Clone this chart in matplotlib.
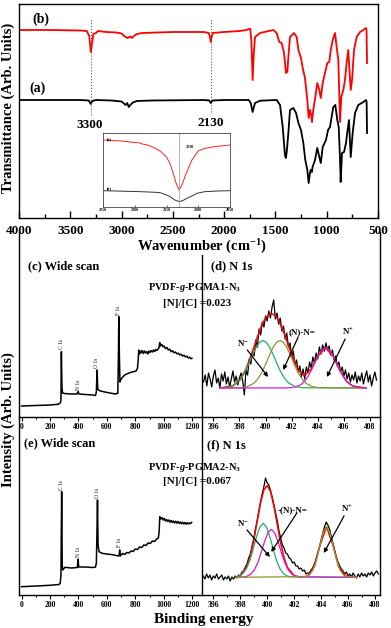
import numpy as np
import matplotlib
matplotlib.use("Agg")
import matplotlib.pyplot as plt
from matplotlib.ticker import MultipleLocator

plt.rcParams['font.family'] = ['Liberation Serif', 'DejaVu Serif']
plt.rcParams['font.weight'] = 'bold'
plt.rcParams['mathtext.fontset'] = 'custom'
plt.rcParams['mathtext.rm'] = 'Liberation Serif:bold'
plt.rcParams['mathtext.it'] = 'Liberation Serif:bold:italic'
plt.rcParams['mathtext.bf'] = 'Liberation Serif:bold'

# ---------------- FTIR data (transmittance, arb. units) ----------------
ftir_b_wn = [4000, 3700, 3400, 3340, 3315, 3300, 3290, 3275, 3250, 3230, 3150, 3050, 3000, 2985,
             2960, 2940, 2925, 2915, 2900, 2880, 2850, 2800, 2500, 2200, 2150, 2140, 2130, 2122,
             2110, 2000, 1850, 1780, 1760, 1745, 1735, 1722, 1712, 1699, 1650, 1520, 1488, 1462,
             1439, 1416, 1397, 1390, 1384, 1371, 1358, 1319, 1293, 1276, 1251, 1234, 1212, 1189,
             1176, 1163, 1150, 1144, 1131, 1111, 1092, 1072, 1058, 1039, 1017, 994, 975, 961,
             942, 919, 903, 887, 870, 858, 838, 822, 806, 790, 780, 766, 753, 734, 708, 675,
             643, 617, 612, 607]
ftir_b_t = [190, 190, 189.5, 189, 184, 168, 175, 186, 187, 189, 188, 187.5, 186.5, 185,
            183, 182, 183, 183.5, 182, 184, 186, 187, 188, 188, 187, 184, 178, 183,
            187, 188, 189, 190, 191, 191, 180, 140, 165, 183, 187, 190, 187, 178,
            177, 167, 147, 150, 148, 167, 183, 187, 183, 170, 162, 152, 142, 120,
            102, 110, 104, 98, 110, 123, 137, 130, 122, 137, 147, 157, 158, 170,
            180, 187, 173, 160, 98, 123, 130, 140, 157, 170, 153, 130, 140, 170, 183, 188,
            190, 192, 190, 157]

ftir_a_wn = [4000, 3700, 3400, 3320, 3300, 3285, 3250, 3100, 3000, 2960, 2945, 2930, 2915, 2890,
             2850, 2700, 2200, 2145, 2130, 2115, 2000, 1760, 1741, 1722, 1710, 1699, 1650, 1488,
             1455, 1429, 1407, 1398, 1390, 1374, 1358, 1325, 1299, 1276, 1251, 1228, 1209, 1189,
             1176, 1166, 1157, 1145, 1138, 1114, 1092, 1072, 1058, 1039, 1007, 987, 968, 936,
             916, 897, 883, 870, 864, 851, 831, 812, 800, 783, 766, 747, 724, 692, 643, 617,
             611, 607]
ftir_a_t = [120, 120, 120, 119.5, 116, 119, 120, 119.5, 118.5, 115, 117, 113, 115, 117.5,
            119, 119.5, 120, 119.5, 117, 119.5, 120, 120, 117, 108, 113, 117, 119.3, 120,
            115, 93, 65, 62, 68, 87, 110, 112, 107, 97, 90, 77, 60, 50,
            37, 45, 50, 48, 53, 60, 72, 63, 57, 73, 80, 90, 93, 113,
            115, 100, 93, 60, 38, 67, 68, 77, 87, 100, 63, 87, 107, 115, 118, 120,
            118, 87]

inset_b_wn = [2250, 2220, 2200, 2192, 2188, 2180, 2170, 2160, 2150, 2145, 2140, 2135, 2130,
              2125, 2120, 2110, 2100, 2090, 2075, 2050]
inset_b_t = [80, 79, 77.5, 77, 76, 75, 72.5, 69, 63, 57, 48, 37, 30,
             36, 45, 60, 69, 71.5, 73.3, 75]
inset_a_wn = [2250, 2200, 2170, 2160, 2150, 2144, 2137, 2130, 2124, 2118, 2110, 2102, 2090, 2070, 2050]
inset_a_t = [29.3, 28.5, 27.8, 27.3, 25, 23.3, 20, 18.3, 19.5, 21.7, 24, 26.7, 28.3, 29, 29.3]

# ---------------- XPS wide scans ----------------
c_be = [0, 100, 200, 258, 272, 277, 280, 284, 288, 300, 350, 390, 398, 404, 450, 500, 520, 526, 531, 536,
        545, 570, 620, 660, 677, 681, 684, 688, 692, 700, 712, 725, 740, 752, 765, 780, 792, 805, 815, 821,
        824, 828, 833, 840, 848, 856, 864, 872, 880, 888, 896, 904, 912, 920, 928, 936, 944, 952, 960, 966,
        972, 978, 986, 994, 1002, 1012, 1022, 1032, 1042, 1052, 1062, 1072, 1082, 1092, 1102, 1112, 1122,
        1132, 1142, 1152, 1162, 1172, 1182, 1192, 1198]
c_int = [11, 11.5, 12, 12.7, 14, 16, 65.3, 30, 24, 23.5, 23, 23, 25.5, 23, 22.5, 22, 21.5, 25, 47, 28,
         26.5, 25.5, 24, 23, 23.7, 60, 100.3, 60, 35, 38, 40, 42, 43, 43.7, 44.5, 45, 45.5, 46, 48.5, 58,
         67, 63, 66, 64, 66.5, 63.5, 66, 64, 65.5, 63, 66, 64.5, 66.5, 65, 67, 65.5, 67.5, 66.5, 68, 69,
         74.3, 71, 72.5, 70.3, 71, 68.5, 69.5, 67, 67.8, 65.3, 66.2, 64.3, 65, 63.2, 63.8, 62, 62.8,
         61, 61.7, 60.2, 60.8, 59, 59.7, 58.3, 58.7]

e_be = [0, 100, 200, 265, 272, 277, 282, 286, 290, 305, 350, 392, 398, 402, 450, 500, 520, 526, 530, 534,
        538, 545, 565, 600, 640, 680, 686, 690, 694, 710, 725, 740, 755, 770, 785, 800, 815, 830, 845, 860,
        875, 890, 905, 920, 935, 950, 962, 968, 972, 980, 988, 996, 1004, 1012, 1020, 1028, 1036, 1044,
        1052, 1060, 1068, 1076, 1084, 1092, 1100, 1108, 1116, 1124, 1132, 1140, 1148, 1156, 1164, 1172,
        1180, 1188, 1196]
e_int = [8.3, 9, 9.7, 10.5, 12, 20, 103.3, 30, 25, 27.7, 27, 27.5, 35.7, 28, 28, 27.5, 28, 32, 60, 95,
         50, 43.3, 41.7, 41, 40.3, 39, 39.5, 45, 39, 41.5, 40.5, 42.5, 42, 44, 43.5, 46, 45.5, 48, 47.5, 50,
         49.5, 52, 51.5, 54, 53.5, 56, 57, 64, 78.3, 76, 77.5, 75, 76.5, 74, 75.5, 73.5, 75, 72.8,
         74.5, 72.5, 74, 72, 73.8, 71.8, 73.5, 71.5, 73, 71.3, 72.8, 71, 72.5, 70.8, 72.3, 71,
         72, 71.5, 72.5]

# peak labels (name, BE, intensity under label)
c_peaks = [("C 1s", 284, 68), ("N 1s", 400, 27), ("O 1s", 530, 49), ("F 1s", 684, 102)]
e_peaks = [("C 1s", 282, 105), ("N 1s", 400, 38), ("O 1s", 534, 97), ("F 1s", 690, 48)]

# ---------------- N 1s, PGMA1 (d) ----------------
d_data = [35, 42, 31, 44, 38, 30,
          41, 47, 34, 39, 29, 43, 36, 45,
          33, 40, 30, 38, 46, 35, 41, 32,
          39, 44, 36, 22, 47, 42, 58, 53,
          66, 61, 77, 70, 88, 82, 95, 90,
          101, 96, 106, 99, 110, 117, 98, 104,
          93, 99, 86, 91, 78, 84, 70, 74,
          60, 66, 52, 57, 45, 51, 40, 48,
          38, 50, 44, 55, 49, 60, 54, 64,
          58, 70, 63, 72, 66, 74, 67, 71,
          62, 67, 57, 61, 51, 55, 45, 50,
          41, 47, 38, 44, 35, 42, 37, 45,
          34, 41, 36, 44, 33, 40, 46, 35,
          42, 31, 39, 45, 37]
d_env_x = [396.5, 397.5, 398.0, 398.5, 399.0, 399.5, 399.75, 400.0, 400.25, 400.45, 400.75, 401.0,
           401.5, 402.0, 402.5, 403.0, 403.5, 404.0, 404.6, 405.2, 405.7, 406.2, 406.7, 407.7]
d_env_y = [29, 31.2, 36.5, 47.8, 65.5, 84.9, 93.1, 99.0, 102.6, 103.4, 101.5, 96.9,
           81.2, 62.0, 46.9, 41.8, 48.0, 60.6, 69.3, 60.2, 46.3, 35.8, 30.9, 29]
d_nminus_x = [396.5, 396.8, 397.3, 397.8, 398.05, 398.3, 398.55, 398.8, 399.05, 399.3, 399.55, 399.8,
              400.05, 400.3, 400.55, 400.8, 401.05, 401.3, 401.55, 401.8, 402.3, 402.8, 407.7]
d_nminus_y = [29, 29.3, 30.3, 33.7, 37.1, 41.9, 48.2, 55.6, 63.3, 70.1, 74.8, 76.5,
              74.8, 70.1, 63.3, 55.6, 48.2, 41.9, 37.1, 33.7, 30.3, 29.3, 29]
d_neq_x = [396.5, 398.1, 398.6, 399.1, 399.35, 399.6, 399.85, 400.1, 400.35, 400.6, 400.85, 401.1,
           401.35, 401.6, 401.85, 402.1, 402.35, 402.6, 402.85, 403.1, 403.6, 404.1, 407.7]
d_neq_y = [29, 29.3, 30.3, 33.7, 37.1, 41.9, 48.2, 55.6, 63.3, 70.1, 74.8, 76.5,
           74.8, 70.1, 63.3, 55.6, 48.2, 41.9, 37.1, 33.7, 30.3, 29.3, 29]
d_nplus_x = [396.5, 401.6, 402.1, 402.6, 402.85, 403.1, 403.35, 403.6, 403.85, 404.1, 404.35, 404.6,
             404.85, 405.1, 405.35, 405.6, 405.85, 406.1, 406.35, 406.6, 407.1, 407.6, 407.7]
d_nplus_y = [29, 29.1, 29.5, 31.5, 33.8, 37.5, 42.7, 49.2, 56.3, 62.9, 67.6, 69.3,
             67.6, 62.9, 56.3, 49.2, 42.7, 37.5, 33.8, 31.5, 29.5, 29.1, 29]

# ---------------- N 1s, PGMA2 (f) ----------------
f_data = [19, 16, 21, 17, 20, 15,
          19, 17, 21, 16, 18, 20, 15, 18,
          16, 19, 14, 18, 16, 19, 17, 20,
          19, 23, 24, 28, 31, 37, 41, 49,
          56, 66, 74, 84, 93, 101, 108, 117,
          112, 110, 104, 98, 90, 82, 74, 64,
          57, 50, 47, 42, 41, 37, 36, 32,
          33, 29, 29, 26, 27, 24, 25, 21,
          22, 22, 25, 27, 31, 36, 42, 48,
          55, 62, 68, 73, 70, 66, 59, 52,
          45, 38, 33, 29, 26, 24, 21, 23,
          19, 21, 18, 22, 19, 17, 21, 18,
          22, 19, 21, 18, 22, 20, 23, 19,
          22, 24, 21]
f_env_x = [397.7, 398.0, 398.5, 398.75, 399.0, 399.25, 399.5, 399.75, 400.0, 400.25, 400.5, 400.75,
           401.0, 401.25, 401.5, 402.0, 402.5, 403.0, 403.5, 403.9, 404.4, 404.9, 405.3, 405.8, 406.6]
f_env_y = [17.7, 19.6, 28.5, 39.1, 54.4, 73.2, 91.7, 105.1, 109.4, 103.3, 88.8, 70.1,
           51.9, 37.3, 27.6, 19.4, 17.8, 18.9, 28.4, 49.0, 68.3, 49.0, 28.4, 18.9, 17.7]
f_nminus_x = [397.7, 397.95, 398.2, 398.45, 398.7, 398.95, 399.2, 399.45, 399.7, 399.95, 400.2, 400.45,
              400.7, 400.95, 401.2, 401.45, 401.7, 406.6]
f_nminus_y = [18.2, 19.2, 21.5, 26.2, 34.2, 45.5, 57.9, 67.9, 71.7, 67.9, 57.9, 45.5,
              34.2, 26.2, 21.5, 19.2, 18.2, 17.7]
f_neq_x = [397.7, 398.3, 398.55, 398.8, 399.05, 399.3, 399.55, 399.8, 400.05, 400.3, 400.55, 400.8,
           401.05, 401.3, 401.55, 401.8, 402.05, 402.3, 406.6]
f_neq_y = [17.7, 18.1, 19.0, 21.1, 25.2, 32.4, 42.4, 53.4, 62.3, 65.7, 62.3, 53.4,
           42.4, 32.4, 25.2, 21.1, 19.0, 18.1, 17.7]
f_nplus_x = [397.7, 402.9, 403.15, 403.4, 403.65, 403.9, 404.15, 404.4, 404.65, 404.9, 405.15, 405.4,
             405.65, 405.9, 406.6]
f_nplus_y = [17.7, 18.4, 20.2, 25.1, 34.9, 49.0, 62.6, 68.3, 62.6, 49.0, 34.9, 25.1,
             20.2, 18.4, 17.7]

W, H = 391, 628
fig = plt.figure(figsize=(W / 100, H / 100), dpi=100)


def box(x0, y0, x1, y1):
    return [x0 / W, 1 - y1 / H, (x1 - x0) / W, (y1 - y0) / H]


def ftext(x, y, s, **kw):
    kw.setdefault('ha', 'center')
    kw.setdefault('va', 'center')
    fig.text(x / W, 1 - y / H, s, **kw)


# ---- FTIR panel ----
ax = fig.add_axes(box(19, 4, 378, 218))
ax.plot(ftir_b_wn, ftir_b_t, color='#ff0000', lw=1.3)
ax.plot(ftir_a_wn, ftir_a_t, color='black', lw=1.3)
ax.vlines([3300, 2130], [105, 108], [202, 202], colors='#555555', linestyles=':', lw=0.8)
ax.set_xlim(4000, 500)
ax.set_ylim(2, 216)
ax.set_yticks([])
ax.xaxis.set_major_locator(MultipleLocator(500))
ax.xaxis.set_minor_locator(MultipleLocator(250))
ax.tick_params(axis='x', which='major', direction='in', length=5, width=1, labelsize=9.5, pad=5)
ax.tick_params(axis='x', which='minor', direction='in', length=3, width=1)
for s in ax.spines.values():
    s.set_linewidth(1)

# inset
ins = fig.add_axes(box(103, 133, 230, 207))
ins.plot(inset_b_wn, inset_b_t, color='#ff2020', lw=0.7)
ins.plot(inset_a_wn, inset_a_t, color='#333333', lw=0.7)
ins.axvline(2130, color='#aaaaaa', lw=0.6)
ins.set_xlim(2250, 2050)
ins.set_ylim(13, 87)
ins.set_yticks([])
ins.set_xticks([2250, 2200, 2150, 2100, 2050])
ins.tick_params(axis='x', direction='in', length=1.5, width=0.4, labelsize=3, pad=1)
for s in ins.spines.values():
    s.set_linewidth(0.6)
    s.set_color('#444444')

ftext(107, 139, "(b)", fontsize=3, ha='left')
ftext(107, 189, "(a)", fontsize=3, ha='left')
ftext(186, 147, "2130", fontsize=3, ha='left')

ftext(32, 19, "(b)", fontsize=10, ha='left')
ftext(29, 88, "(a)", fontsize=10, ha='left')
ftext(90, 125, "3300", fontsize=9.5)
ftext(211, 123, "2130", fontsize=9.5)
ftext(8, 108, "Transmittance (Arb. Units)", fontsize=10.5, rotation=90)
ftext(202, 247, "Wavenumber (cm$^{-1}$)", fontsize=10.5)

# ---- XPS panels ----
ax_c = fig.add_axes(box(19, 232, 202, 417))
ax_d = fig.add_axes(box(202, 232, 380, 417))
ax_e = fig.add_axes(box(19, 417, 202, 595))
ax_f = fig.add_axes(box(202, 417, 380, 595))
for a in (ax_c, ax_d, ax_e, ax_f):
    a.patch.set_visible(False)
ax_c.set_zorder(3)
ax_d.set_zorder(3)

ax_c.plot(c_be, c_int, color='black', lw=1.1)
ax_e.plot(e_be, e_int, color='black', lw=1.1)
for a, peaks in ((ax_c, c_peaks), (ax_e, e_peaks)):
    for name, be, yy in peaks:
        a.text(be, yy, name, rotation=90, fontsize=4, fontweight='normal', ha='center', va='bottom')
    a.set_xlim(-18, 1269)
    a.xaxis.set_major_locator(MultipleLocator(200))
    a.xaxis.set_minor_locator(MultipleLocator(100))
ax_c.set_ylim(0, 185)
ax_e.set_ylim(0, 178)

green, olive, magenta = '#1fae62', '#8f9530', '#d41cd4'
d_x = np.linspace(395.25, 408.5, len(d_data))
ax_d.plot(d_x, d_data, color='black', lw=0.9)
ax_d.plot(d_env_x, d_env_y, color='#ff0000', lw=1.1)
ax_d.plot(d_nminus_x, d_nminus_y, color=green, lw=0.9)
ax_d.plot(d_neq_x, d_neq_y, color=olive, lw=0.9)
ax_d.plot(d_nplus_x, d_nplus_y, color=magenta, lw=0.9)
ax_d.set_xlim(395.13, 408.77)
ax_d.set_ylim(0, 185)

f_x = np.linspace(395.25, 408.25, len(f_data))
ax_f.plot(f_x, f_data, color='black', lw=0.9)
ax_f.plot(f_env_x, f_env_y, color='#ff0000', lw=1.1)
ax_f.plot(f_nminus_x, f_nminus_y, color=green, lw=0.9)
ax_f.plot(f_neq_x, f_neq_y, color=magenta, lw=0.9)
ax_f.plot(f_nplus_x, f_nplus_y, color=olive, lw=0.9)
ax_f.set_xlim(395.16, 408.37)
ax_f.set_ylim(0, 178)

for a in (ax_d, ax_f):
    a.xaxis.set_major_locator(MultipleLocator(2))
    a.xaxis.set_minor_locator(MultipleLocator(1))

for a in (ax_c, ax_d, ax_e, ax_f):
    a.set_yticks([])
    a.spines['top'].set_visible(False)
    for s in a.spines.values():
        s.set_linewidth(1)
    a.tick_params(axis='x', which='major', direction='out', length=3, width=0.8, labelsize=5.5, pad=1.5)
    a.tick_params(axis='x', which='minor', direction='out', length=1.5, width=0.8)
for a in (ax_c, ax_e):
    a.spines['right'].set_visible(False)
# divider starts below the x label
ax_d.spines['left'].set_bounds(0, 162)

arrow = dict(arrowstyle='-|>', color='black', lw=0.9, mutation_scale=6, shrinkA=0, shrinkB=0)
ax_d.text(398.3, 74, "N$^{-}$", fontsize=6.5, ha='center', va='center')
ax_d.annotate('', xy=(400.2, 40), xytext=(398.6, 67), arrowprops=arrow)
ax_d.text(402.8, 85, "(N)-N=", fontsize=6.5, ha='center', va='center')
ax_d.annotate('', xy=(401.35, 47), xytext=(402.5, 80), arrowprops=arrow)
ax_d.text(406.3, 85, "N$^{+}$", fontsize=6.5, ha='center', va='center')
ax_d.annotate('', xy=(404.7, 40), xytext=(406.1, 78), arrowprops=arrow)

ax_f.text(398.2, 72, "N$^{-}$", fontsize=6.5, ha='center', va='center')
ax_f.annotate('', xy=(400.2, 38), xytext=(398.5, 65), arrowprops=arrow)
ax_f.text(401.85, 85, "-(N)-N=", fontsize=6.5, ha='center', va='center')
ax_f.annotate('', xy=(400.3, 43), xytext=(402.2, 82), arrowprops=arrow)
ax_f.text(405.9, 86, "N$^{+}$", fontsize=6.5, ha='center', va='center')
ax_f.annotate('', xy=(404.2, 42), xytext=(405.7, 79), arrowprops=arrow)

ftext(28, 266, "(c) Wide scan", fontsize=9, ha='left')
ftext(211, 266, "(d) N 1s", fontsize=9, ha='left')
ftext(195, 288, "PVDF-$\\mathit{g}$-PGMA1-N$_3$", fontsize=7.5)
ftext(197, 303, "[N]/[C] =0.023", fontsize=8)
ftext(24, 443, "(e) Wide scan", fontsize=9, ha='left')
ftext(207, 445, "(f) N 1s", fontsize=9, ha='left')
ftext(195, 467, "PVDF-$\\mathit{g}$-PGMA2-N$_3$", fontsize=7.5)
ftext(197, 482, "[N]/[C] =0.067", fontsize=8)
ftext(8, 420, "Intensity (Arb. Units)", fontsize=10.5, rotation=90)
ftext(204, 620, "Binding energy", fontsize=11)

fig.savefig("out.png", dpi=100)
